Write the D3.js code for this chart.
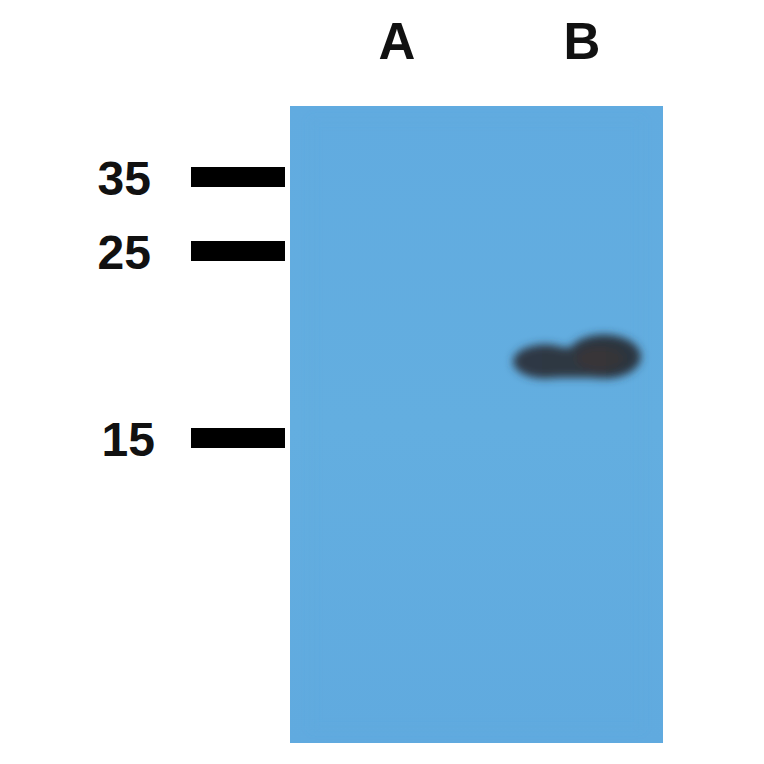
<!DOCTYPE html>
<html>
<head>
<meta charset="utf-8">
<script src="https://cdn.jsdelivr.net/npm/d3@7"></script>
<style>
  html, body { margin: 0; padding: 0; background: #fff; }
  svg { display: block; }
</style>
</head>
<body>
<div id="blot"></div>
<script>
// Lanes and molecular weight markers (kDa)
const lanes = ["A", "B"];
const markers = [35, 25, 15];
const markerLabels = ["35", "25", "15"];

// Detected band: lane, apparent size (kDa), relative intensity
const bandLanes = ["B"];
const bandKda = [19.3];
const bandIntensity = [1.0];

const W = 764, H = 764;
const panel = { x0: 290, x1: 663, y0: 106, y1: 743 };

const svg = d3.select("#blot")
    .append("svg")
    .attr("width", W)
    .attr("height", H);

// Lane position scale and a piecewise kDa scale fitted to the ladder
const xLane = d3.scalePoint()
    .domain(lanes)
    .range([397, 582]);

const yKda = d3.scaleLinear()
    .domain(markers)
    .range([177, 251, 438]);

const defs = svg.append("defs");
defs.append("filter")
    .attr("id", "blur")
    .attr("x", "-30%").attr("y", "-60%")
    .attr("width", "160%").attr("height", "220%")
    .append("feGaussianBlur")
    .attr("stdDeviation", 4.5);

const bg = defs.append("linearGradient")
    .attr("id", "membrane")
    .attr("x1", 0).attr("y1", 0).attr("x2", 0).attr("y2", 1);
bg.append("stop").attr("offset", "0%").attr("stop-color", "#61abe0");
bg.append("stop").attr("offset", "50%").attr("stop-color", "#63aee0");
bg.append("stop").attr("offset", "100%").attr("stop-color", "#60aadf");

// Membrane
svg.append("rect")
    .attr("x", panel.x0)
    .attr("y", panel.y0)
    .attr("width", panel.x1 - panel.x0)
    .attr("height", panel.y1 - panel.y0)
    .attr("fill", "url(#membrane)");

// faint inner edge seen on the scan
svg.append("rect")
    .attr("x", panel.x0 + 22)
    .attr("y", panel.y0 + 14)
    .attr("width", panel.x1 - panel.x0 - 44)
    .attr("height", panel.y1 - panel.y0 - 28)
    .attr("fill", "none")
    .attr("stroke", "#5aa3d8")
    .attr("stroke-opacity", 0.35)
    .attr("stroke-width", 2)
    .attr("filter", "url(#blur)");

// Lane labels
svg.selectAll("text.lane")
    .data(lanes)
    .join("text")
    .attr("class", "lane")
    .attr("x", d => xLane(d))
    .attr("y", 59)
    .attr("text-anchor", "middle")
    .attr("font-family", "Liberation Sans, Arial, sans-serif")
    .attr("font-weight", "bold")
    .attr("font-size", 51)
    .attr("fill", "#111")
    .text(d => d);

// Ladder bars
svg.selectAll("rect.marker")
    .data(markers)
    .join("rect")
    .attr("class", "marker")
    .attr("x", 191)
    .attr("y", d => yKda(d) - 10)
    .attr("width", 94)
    .attr("height", 20)
    .attr("fill", "#000");

svg.selectAll("text.marker")
    .data(markers)
    .join("text")
    .attr("class", "marker")
    .attr("x", (d, i) => i === 2 ? 155 : 151)
    .attr("y", d => yKda(d) + 18)
    .attr("text-anchor", "end")
    .attr("font-family", "Liberation Sans, Arial, sans-serif")
    .attr("font-weight", "bold")
    .attr("font-size", 48)
    .attr("fill", "#111")
    .text((d, i) => markerLabels[i]);

// Band: two merged lobes, the right one heavier
const bands = bandLanes.map((l, i) => ({ lane: l, kda: bandKda[i], k: bandIntensity[i] }));

const g = svg.selectAll("g.band")
    .data(bands)
    .join("g")
    .attr("class", "band")
    .attr("filter", "url(#blur)")
    .attr("opacity", d => d.k);

g.append("ellipse")
    .attr("cx", d => xLane(d.lane) - 37)
    .attr("cy", d => yKda(d.kda) + 4)
    .attr("rx", 32)
    .attr("ry", 17)
    .attr("fill", "#2f3944");

g.append("ellipse")
    .attr("cx", d => xLane(d.lane) + 22)
    .attr("cy", d => yKda(d.kda) - 1)
    .attr("rx", 37)
    .attr("ry", 22)
    .attr("fill", "#2c3540");

g.append("rect")
    .attr("x", d => xLane(d.lane) - 40)
    .attr("y", d => yKda(d.kda) - 10)
    .attr("width", 64)
    .attr("height", 30)
    .attr("fill", "#2f3842");

g.append("ellipse")
    .attr("cx", d => xLane(d.lane) + 18)
    .attr("cy", d => yKda(d.kda) + 1)
    .attr("rx", 24)
    .attr("ry", 12)
    .attr("fill", "#3b3434")
    .attr("opacity", 0.7);
</script>
</body>
</html>
